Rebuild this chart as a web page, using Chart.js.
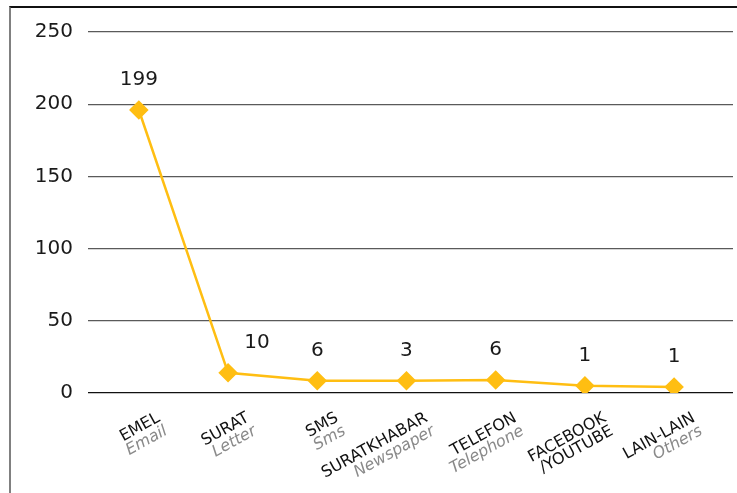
<!DOCTYPE html>
<html>
<head>
<meta charset="utf-8">
<script src="https://cdn.jsdelivr.net/npm/chart.js@4/dist/chart.umd.min.js"></script>
<style>
  html, body { margin: 0; padding: 0; background: #fff; overflow: hidden; }
  #frame {
    position: absolute; left: 9px; top: 6px; width: 726px; height: 485px;
    border-top: 2px solid #111; border-left: 2px solid #808080;
  }
  #chart { position: absolute; left: 0; top: 0; }
</style>
</head>
<body>
<div id="frame"></div>
<canvas id="chart" width="737" height="493"></canvas>
<script>
// categories: Malay label lines (black) and English translation (grey)
const categoriesMs = [['EMEL'], ['SURAT'], ['SMS'], ['SURATKHABAR'], ['TELEFON'], ['FACEBOOK', '/YOUTUBE'], ['LAIN-LAIN']];
const categoriesEn = ['Email', 'Letter', 'Sms', 'Newspaper', 'Telephone', '', 'Others'];

// plotted values and the printed data labels
const values = [196, 14, 8.5, 8.5, 9, 5, 4.2];
const valueLabels = ['199', '10', '6', '3', '6', '1', '1'];

const yTicks = [0, 50, 100, 150, 200, 250];

const GOLD = '#FFBE12';

// data labels above each marker
const labelDx = [0, 29, 0, 0, 0, 0, 0];
const dataLabels = {
  id: 'dataLabels',
  afterDatasetsDraw(chart) {
    const ctx = chart.ctx;
    const meta = chart.getDatasetMeta(0);
    ctx.save();
    ctx.font = '20px "DejaVu Sans"';
    ctx.fillStyle = '#1a1a1a';
    ctx.textAlign = 'center';
    ctx.textBaseline = 'middle';
    meta.data.forEach((pt, i) => {
      ctx.fillText(valueLabels[i], pt.x + labelDx[i], pt.y - 30);
    });
    ctx.restore();
  }
};

// rotated two-colour category labels under the axis
const catLabels = {
  id: 'catLabels',
  afterDraw(chart) {
    const ctx = chart.ctx;
    const xs = chart.scales.x;
    const base = chart.chartArea.bottom;
    const ang = -29 * Math.PI / 180;
    const lh = 15;
    ctx.save();
    ctx.textAlign = 'right';
    ctx.textBaseline = 'top';
    categoriesMs.forEach((lines, i) => {
      const x = xs.getPixelForValue(i) + 16;
      ctx.save();
      ctx.translate(x, base + 17);
      ctx.rotate(ang);
      ctx.font = '16px "DejaVu Sans"';
      ctx.fillStyle = '#111';
      lines.forEach((t, k) => ctx.fillText(t, 0, k * lh));
      if (categoriesEn[i]) {
        ctx.font = 'italic 16px "DejaVu Sans"';
        ctx.fillStyle = '#8a8a8a';
        ctx.fillText(categoriesEn[i], 0, lines.length * lh);
      }
      ctx.restore();
    });
    ctx.restore();
  }
};

const chart = new Chart(document.getElementById('chart'), {
  type: 'line',
  data: {
    datasets: [{
      data: values.map((v, i) => ({ x: i, y: v })),
      borderColor: GOLD,
      backgroundColor: GOLD,
      borderWidth: 2.5,
      pointStyle: 'rectRot',
      pointRadius: 8,
      pointHoverRadius: 8,
      tension: 0,
      fill: false
    }]
  },
  options: {
    responsive: false,
    animation: false,
    layout: { autoPadding: false, padding: { top: 32, right: 4, bottom: 100, left: 0 } },
    plugins: {
      legend: { display: false },
      tooltip: { enabled: false }
    },
    scales: {
      x: {
        type: 'linear',
        display: false,
        min: -0.57,
        max: 6.66
      },
      y: {
        min: 0,
        max: 250,
        afterFit(scale) { scale.width = 88; },
        afterBuildTicks(scale) { scale.ticks = yTicks.map(v => ({ value: v })); },
        border: { display: false },
        grid: {
          drawTicks: false,
          color: ctx => ctx.tick.value === 0 ? '#111' : '#5a5a5a',
          lineWidth: 1.3
        },
        ticks: {
          padding: 15,
          color: '#1a1a1a',
          font: { family: 'DejaVu Sans', size: 20 }
        }
      }
    }
  },
  plugins: [dataLabels, catLabels]
});
</script>
</body>
</html>
